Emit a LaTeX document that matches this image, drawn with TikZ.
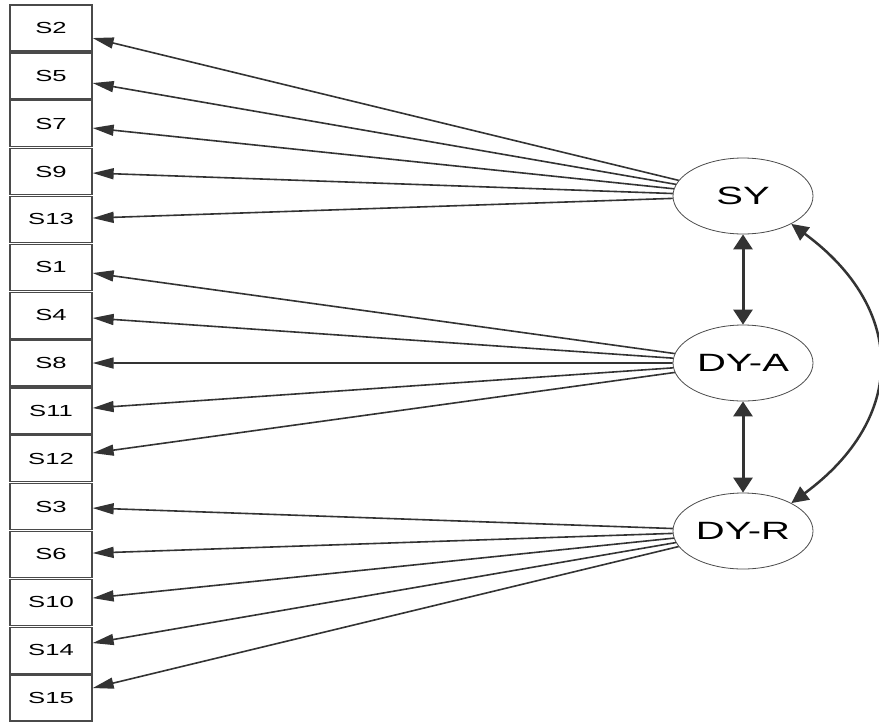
\documentclass[tikz,border=0pt]{standalone}
\usepackage{fontspec}
\usetikzlibrary{arrows.meta,shapes.geometric}
\newfontfamily\boxfont[FakeStretch=1.6]{Liberation Sans}
\definecolor{edgec}{HTML}{333333}
\definecolor{borderc}{HTML}{4A4A4A}
\tikzset{
  obsbox/.style={draw=borderc, line width=1.3pt, minimum width=82pt, minimum height=46pt, inner sep=0pt, font=\boxfont\fontsize{16}{16}\selectfont},
  latent/.style={ellipse, draw=borderc, line width=0.8pt, minimum width=140pt, minimum height=76pt, inner sep=0pt, font=\boxfont\fontsize{25}{25}\selectfont},
  loading/.style={draw=edgec, line width=1.6pt, -{Triangle[length=21pt,width=11pt]}},
  covar/.style={draw=edgec, line width=3pt, {Triangle[length=15pt,width=19pt]}-{Triangle[length=15pt,width=19pt]}},
  covarcurve/.style={draw=edgec, line width=2.5pt, {Triangle[length=17pt,width=16pt]}-{Triangle[length=17pt,width=16pt]}}
}
\begin{document}
\begin{tikzpicture}[x={(1pt,0pt)}, y={(0pt,-1pt)}]
\useasboundingbox (0,0) rectangle (879,724);
\foreach \lab [count=\i from 0] in {S2,S5,S7,S9,S13,S1,S4,S8,S11,S12,S3,S6,S10,S14,S15} {
  \node[obsbox] (\lab) at (51, 28+47.86*\i) {\lab};
}
\node[latent] (SY) at (743,196) {SY};
\node[latent] (DYA) at (743,363) {DY-A};
\node[latent] (DYR) at (743,531) {DY-R};
\foreach \t in {S2,S5,S7,S9,S13} { \draw[loading] (SY) -- (\t); }
\foreach \t in {S1,S4,S8,S11,S12} { \draw[loading] (DYA) -- (\t); }
\foreach \t in {S3,S6,S10,S14,S15} { \draw[loading] (DYR) -- (\t); }
\draw[covar] (SY) -- (DYA);
\draw[covar] (DYA) -- (DYR);
\draw[covarcurve] (SY.-30) .. controls (907,309) and (907,418) .. (DYR.30);
\end{tikzpicture}
\end{document}
